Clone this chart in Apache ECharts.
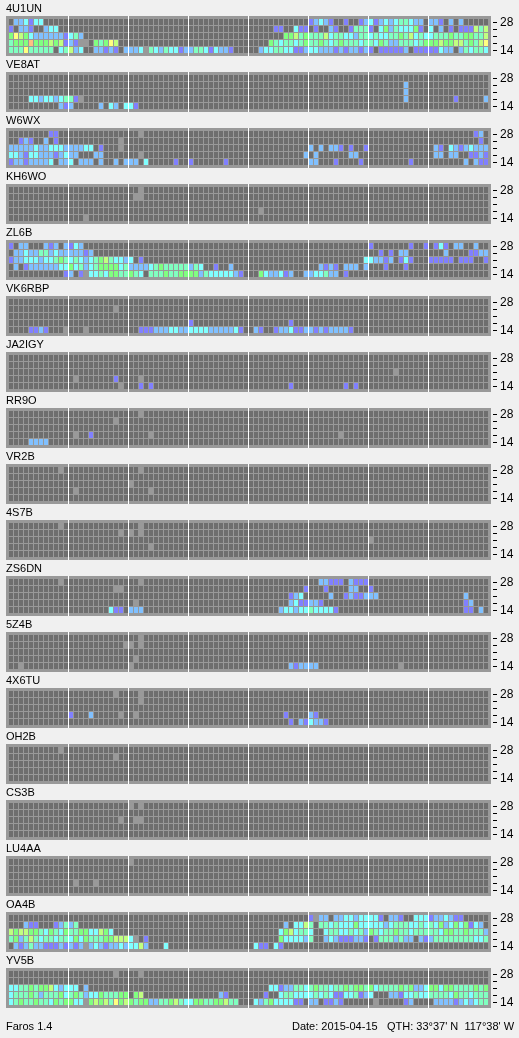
<!DOCTYPE html>
<html><head><meta charset="utf-8">
<style>html,body{margin:0;padding:0;background:#f0f0f0}#c{width:519px;height:1038px}</style>
<script src="https://cdn.jsdelivr.net/npm/echarts@6/dist/echarts.min.js"></script>
</head><body><div id="c"></div>
<script>
// Each station: five bands (top = 28 MHz, bottom = 14 MHz). Each band: [startColumn, "levels"] runs.
// Levels: . = nothing heard, 1-8 = signal level, g = no measurement.
const stations = ["4U1UN","VE8AT","W6WX","KH6WO","ZL6B","VK6RBP","JA2IGY","RR9O","VR2B","4S7B","ZS6DN","5Z4B","4X6TU","OH2B","CS3B","LU4AA","OA4B","YV5B"];
const rowLabels = ["28","","","","14"];
const columnCount = 96;

const d4U1UN = [
 [[1,"223133"],[60,"12321"],[67,"1"],[70,"1231232344322"],[84,"221"],[88,"2"],[90,"2"]],
 [[0,"1.221"],[7,"233"],[53,"11"],[57,"311"],[61,"1"],[64,"21"],[68,"14441"],[74,"352433351"],[84,"3"],[86,"2"],[88,"1"],[90,"111646"]],
 [[0,"576532222221342"],[55,"55645444634433244343344546343344454455446"]],
 [[0,"45558555656121gg"],[17,"54576"],[52,"54344345445434544434435422444345556556645467"]],
 [[0,"444744444.34623..22121.2223g43243312244313221"],[50,"23344331123322212122121.111112.11111322.243443"]]
];
const dVE8AT = [
 [],
 [[79,"2"]],
 [[79,"2"]],
 [[4,"3323323441g"],[79,"2"],[89,"1"],[95,"2"]],
 [[10,"212"],[18,"2"],[20,"32"],[23,"331"]]
];
const dW6WX = [
 [[8,"11"],[26,"g"],[93,"12"]],
 [[2,"121"],[7,"2"],[9,"1"],[22,"g"],[94,"1"]],
 [[0,"22222322333222233"],[18,"1"],[22,"g"],[60,"2"],[62,"2"],[64,"221"],[68,"1"],[71,"1"],[85,"21"],[88,"32123222"]],
 [[0,"33213322212322"],[17,"22"],[26,"g"],[59,"2"],[61,"2"],[68,"22"],[85,"22"],[88,"22"],[92,"1121"]],
 [[0,"122122223.223.222.2"],[21,"2"],[23,"222"],[27,"3"],[33,"1"],[36,"1"],[43,"1"],[60,"22"],[65,"1"],[70,"1"],[80,"1"],[91,"2"],[93,"211"]]
];
const dKH6WO = [
 [[26,"g"]],
 [[25,"gg"]],
 [],
 [[50,"g"]],
 [[15,"g"]]
];
const dZL6B = [
 [[0,"1"],[2,"22"],[7,"212"],[11,"2132"],[72,"1"],[80,"1"],[83,"1"],[85,"131"],[89,"22"],[93,"2"]],
 [[1,"2232244232222212"],[74,"1"],[76,"1"],[78,"22"],[87,"2"],[92,"1122"]],
 [[0,"1223332334543432345643323"],[26,"1"],[71,"332212"],[78,"131"],[84,"11111"],[90,"111"],[95,"1"]],
 [[1,"2.122222233534234555534222234544444243"],[41,"1"],[44,"2"],[62,"21"],[64,"21"],[67,"222"],[71,"2"],[75,"1"],[79,"1"]],
 [[11,"12.1g33435544543.4445445555243333321"],[50,"5322312"],[59,"2233422"],[67,"1"]]
];
const dVK6RBP = [
 [],
 [[21,"g"]],
 [],
 [[36,"1"],[56,"1"]],
 [[4,"1121"],[11,"g"],[15,"g"],[26,"111222332233332222231"],[49,"21"],[53,"1223112212122221"]]
];
const dJA2IGY = [
 [],
 [],
 [[77,"g"]],
 [[13,"g"],[21,"1"],[26,"g"]],
 [[22,"g"],[26,"1"],[28,"1"],[56,"1"],[67,"1"],[69,"1"]]
];
const dRR9O = [
 [[26,"g"]],
 [[21,"g"]],
 [],
 [[13,"g"],[16,"1"],[28,"g"],[66,"g"]],
 [[4,"2222"]]
];
const dVR2B = [
 [[10,"g"],[26,"g"]],
 [],
 [[24,"g"]],
 [[13,"g"],[28,"g"]],
 []
];
const d4S7B = [
 [[10,"g"],[26,"g"]],
 [[22,"g"],[24,"g"],[26,"g"]],
 [[72,"g"]],
 [[28,"g"]],
 []
];
const dZS6DN = [
 [[10,"g"],[26,"g"],[62,"22111"],[68,"2111"]],
 [[21,"gg"],[59,"1"],[63,"1"],[68,"22"],[72,"1"]],
 [[56,"123"],[64,"2"],[67,"1211222"],[91,"2"]],
 [[25,"g"],[56,"2311221"],[91,"12"]],
 [[20,"311"],[24,"222"],[54,"233233433331"],[91,"11"],[94,"2"]]
];
const d5Z4B = [
 [[26,"g"]],
 [[23,"gg"],[26,"g"]],
 [],
 [[25,"g"]],
 [[2,"g"],[24,"g"],[56,"212222"],[78,"g"]]
];
const d4X6TU = [
 [[21,"g"],[26,"g"]],
 [[26,"g"]],
 [],
 [[12,"1"],[16,"2"],[22,"g"],[25,"g"],[55,"1"],[60,"21"]],
 [[56,"1"],[58,"213221"]]
];
const dOH2B = [
 [[10,"g"]],
 [[21,"g"]],
 [],
 [],
 []
];
const dCS3B = [
 [[24,"g"],[26,"g"]],
 [],
 [[22,"g"],[25,"gg"]],
 [],
 []
];
const dLU4AA = [
 [[24,"g"]],
 [],
 [],
 [[13,"g"],[17,"g"]],
 []
];
const dOA4B = [
 [[60,"1g22.223323333 1.221..333122321 1"]],
 [[3,"211"],[9,"12424"],[55,"2"],[57,"3364.443433353333323444334343523535132"]],
 [[0,"656655435435445533653"],[54,"3563443"],[63,"34433 43425 43445 44344 44435 54454 442"]],
 [[0,"4524643443443535444556663g"],[27,"1"],[54,"5333324"],[63,"23211 1221. 14442 4 22.2 12444 44444 334"]],
 [[1,"21242211121212"],[15,"g"],[16,"232122323362"],[31,"3"],[49,"3"],[50,"11"],[53,"31"]]
];
const dYV5B = [
 [[21,"g"],[26,"g"]],
 [],
 [[0,"33445455632333"],[15,"2"],[52,"33122 44345 44344 54554 53444 45452 23553 55444 4545"]],
 [[0,"34445 42444 53454 23354 44 55"],[25,"56"],[42,"21"],[51,"1"],[54,"34433 33434 31133 4123"],[76,"22133 43344 44354 43444"]],
 [[0,"34544 54435 45533 g5656 47565 45522 44564 33554 45564 4"],[49,"3"],[50,"2453333 11.22.1121"],[73,"g"],[79,"12"],[85,"22221232344"]]
];
const stationData = [d4U1UN,dVE8AT,dW6WX,dKH6WO,dZL6B,dVK6RBP,dJA2IGY,dRR9O,dVR2B,d4S7B,dZS6DN,d5Z4B,d4X6TU,dOH2B,dCS3B,dLU4AA,dOA4B,dYV5B];

const palette = {".":"#6e6e6e","1":"#8080ff","2":"#80c0ff","3":"#80ffff","4":"#80ffc0","5":"#80ff80","6":"#c0ff80","7":"#ffff80","8":"#ffc080","g":"#999999"};
const levelCodes = Object.keys(palette);
const font = "'Liberation Sans', Arial, sans-serif";

function cellsOf(rows){
  const out = [];
  rows.forEach((runs, r) => {
    const line = new Array(columnCount).fill(".");
    runs.forEach(([start, s]) => { [...s.replace(/ /g, "")].forEach((ch, i) => { if (start + i < columnCount) line[start + i] = ch; }); });
    line.forEach((ch, c) => out.push([c, r, levelCodes.indexOf(ch)]));
  });
  return out;
}
function renderCell(params, api){
  const p = api.coord([api.value(0), api.value(1)]);
  const s = api.size([1, 1]);
  return {type:"rect", shape:{x:p[0]-s[0]/2, y:p[1]-s[1]/2, width:s[0]-1, height:s[1]-1},
          style:{fill:palette[levelCodes[api.value(2)]]}};
}
const columns = Array.from({length:columnCount}, (_, i) => String(i));
const grids=[], xAxes=[], yAxes=[], series=[], titles=[], chrome=[];
const textStyle = {fontFamily:font, fontSize:11, fontWeight:"normal", color:"#000"};
stations.forEach((name, k) => {
  const top = 16 + 56 * k;
  chrome.push({type:"rect", z:0, silent:true, shape:{x:6, y:top, width:485, height:40}, style:{fill:"#999999"}});
  for (let m = 1; m < 8; m++) chrome.push({type:"rect", z:1, silent:true, shape:{x:8 + 60 * m, y:top, width:1, height:40}, style:{fill:"#ffffff"}});
  titles.push({text:name, left:6, top:top - 13, padding:0, textStyle});
  grids.push({left:9, top:top + 3, width:480, height:35, show:false});
  xAxes.push({type:"category", gridIndex:k, data:columns, show:false});
  yAxes.push({type:"category", gridIndex:k, data:rowLabels, inverse:true, position:"right", offset:4,
    axisLine:{show:false}, axisTick:{show:true, alignWithLabel:true, length:4, lineStyle:{color:"#000", width:1}},
    axisLabel:{show:true, interval:0, margin:7, padding:[0,0,2,0], fontFamily:font, fontSize:12, color:"#000"}, splitLine:{show:false}});
  series.push({type:"custom", xAxisIndex:k, yAxisIndex:k, data:cellsOf(stationData[k]), renderItem:renderCell, silent:true, clip:false, animation:false, z:3});
});
titles.push({text:"Faros 1.4", left:6, top:1021, padding:0, textStyle});
titles.push({text:"Date: 2015-04-15", left:292, top:1021, padding:0, textStyle});
titles.push({text:"QTH: 33°37' N  117°38' W", left:387, top:1021, padding:0, textStyle});

const chart = echarts.init(document.getElementById("c"), null, {renderer:"canvas", width:519, height:1038});
chart.setOption({animation:false, backgroundColor:"#f0f0f0", title:titles, grid:grids, xAxis:xAxes, yAxis:yAxes, series:series, graphic:{elements:chrome}, tooltip:{show:false}});
</script></body></html>
